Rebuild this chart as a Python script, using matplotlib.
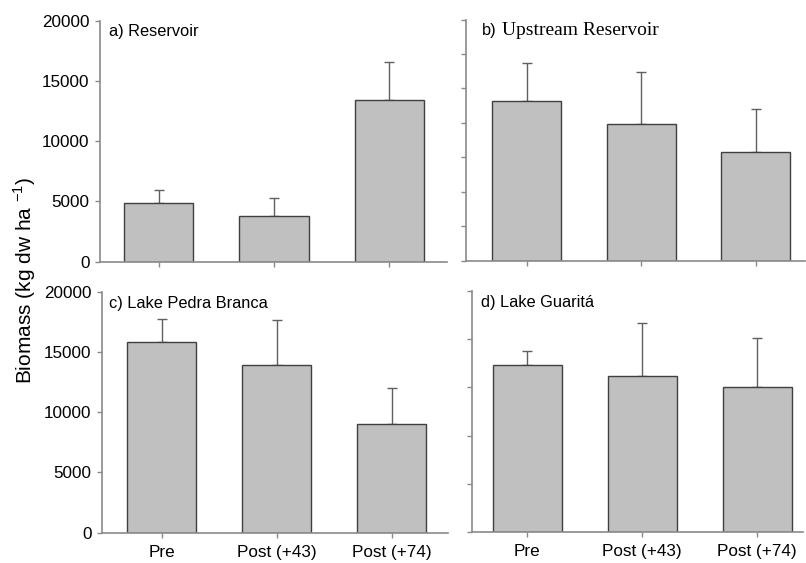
import matplotlib.pyplot as plt

plt.rcParams['font.family'] = ['Liberation Sans', 'DejaVu Sans']

periods = ['Pre', 'Post (+43)', 'Post (+74)']

reservoir_mean = [4850, 3790, 13440]
reservoir_err = [1100, 1520, 3110]

upstream_mean = [13250, 11300, 9000]
upstream_err = [3120, 4370, 3570]

pedra_branca_mean = [15800, 13920, 9000]
pedra_branca_err = [1910, 3710, 3030]

guarita_mean = [13900, 12950, 12030]
guarita_err = [1100, 4370, 4100]

W, H = 806, 563
BAR = '#c0c0c0'
EDGE = '#404040'
AX = '#8a8a8a'


def make_panel(rect_px, xlim, mean, err, yticks, ylabels, xlabels):
    l, r, top, bot = rect_px
    ax = fig.add_axes([l / W, (H - bot) / H, (r - l) / W, (bot - top) / H])
    x = range(len(mean))
    ax.bar(x, mean, width=0.6, color=BAR, edgecolor=EDGE, linewidth=1.0, zorder=2)
    ax.errorbar(x, mean, yerr=[[0] * len(err), err], fmt='none', ecolor='#606060',
                elinewidth=1.0, capsize=3.5, capthick=1.0, zorder=1)
    ax.set_xlim(*xlim)
    ax.set_ylim(0, 20000)
    ax.set_yticks(yticks)
    if ylabels:
        ax.set_yticklabels([str(t) for t in yticks])
    else:
        ax.set_yticklabels([])
    ax.set_xticks(list(x))
    if xlabels:
        ax.set_xticklabels(periods)
    else:
        ax.set_xticklabels([])
    for s in ['top', 'right']:
        ax.spines[s].set_visible(False)
    for s in ['left', 'bottom']:
        ax.spines[s].set_color(AX)
        ax.spines[s].set_linewidth(1.2)
    ax.tick_params(direction='out', length=3.5, width=1.0, color=AX,
                   labelsize=12.3, pad=4)
    ax.tick_params(axis='x', pad=5)
    return ax


fig = plt.figure(figsize=(W / 100, H / 100), dpi=100)

ticks_left = [0, 5000, 10000, 15000, 20000]
ticks_b = [0, 2857, 5714, 8571, 11429, 14286, 17143, 20000]
ticks_d = [0, 4000, 8000, 12000, 16000, 20000]

ax_a = make_panel((100, 447, 20.7, 261.7), (-0.51, 2.5), reservoir_mean, reservoir_err,
                  ticks_left, True, False)
ax_b = make_panel((466, 805, 19.5, 260.5), (-0.53, 2.43), upstream_mean, upstream_err,
                  ticks_b, False, False)
ax_c = make_panel((102, 448, 291.7, 532.7), (-0.52, 2.49), pedra_branca_mean, pedra_branca_err,
                  ticks_left, True, True)
ax_d = make_panel((472, 803, 291, 532), (-0.48, 2.4), guarita_mean, guarita_err,
                  ticks_d, False, True)

ax_a.text(0.026, 0.957, 'a) Reservoir', transform=ax_a.transAxes, fontsize=11.8, va='center')
ax_b.text(0.047, 0.955, 'b)', transform=ax_b.transAxes, fontsize=11.8, va='center')
ax_b.text(0.106, 0.955, 'Upstream Reservoir', transform=ax_b.transAxes, fontsize=14,
          va='center', family=['Liberation Serif', 'DejaVu Serif'])
ax_c.text(0.02, 0.953, 'c) Lake Pedra Branca', transform=ax_c.transAxes, fontsize=11.8, va='center')
ax_d.text(0.027, 0.953, 'd) Lake Guaritá', transform=ax_d.transAxes, fontsize=11.8, va='center')

fig.text(25 / W, (H - 280) / H, r'Biomass (kg dw ha $^{\mathregular{-1}}$)', rotation=90,
         fontsize=15, va='center', ha='center')

fig.savefig('out.png', dpi=100)
